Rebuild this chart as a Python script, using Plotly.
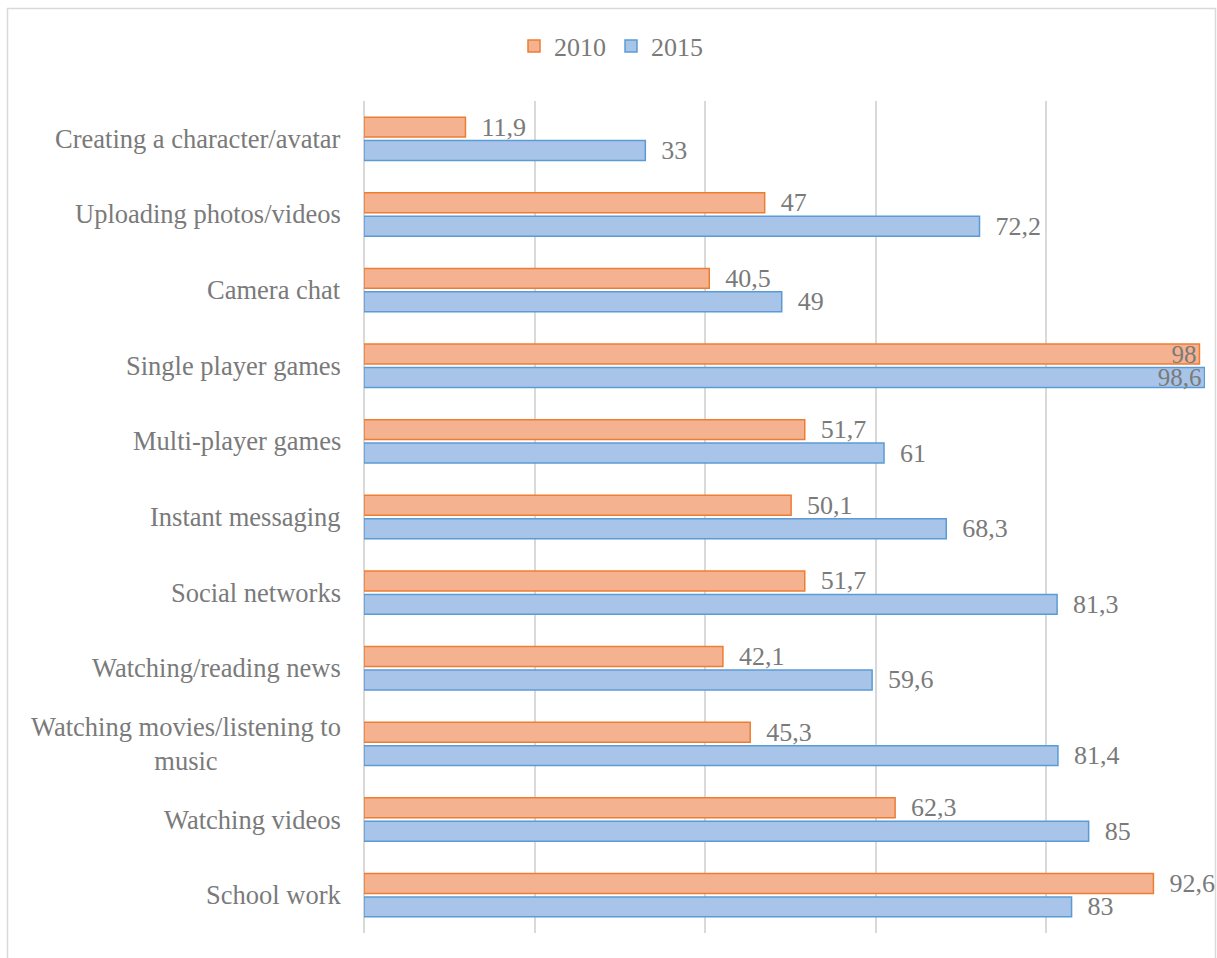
import plotly.graph_objects as go

categories = [
    "Creating a character/avatar",
    "Uploading photos/videos",
    "Camera chat",
    "Single player games",
    "Multi-player games",
    "Instant messaging",
    "Social networks",
    "Watching/reading news",
    "Watching movies/listening to<br>music",
    "Watching videos",
    "School work",
]
values_2010 = [11.9, 47, 40.5, 98, 51.7, 50.1, 51.7, 42.1, 45.3, 62.3, 92.6]
values_2015 = [33, 72.2, 49, 98.6, 61, 68.3, 81.3, 59.6, 81.4, 85, 83]

TXT = "#7A7A7A"
FONT = "Liberation Serif"
FS = 26
NB = "\u00a0\u00a0"


def fmt(v):
    return f"{v:g}".replace(".", ",")


def labels(vals):
    return [fmt(v) if v > 95 else NB + fmt(v) for v in vals]


def positions(vals):
    return ["inside" if v > 95 else "outside" for v in vals]


def bar(name, vals, fill, edge):
    return go.Bar(
        name=name, y=categories, x=vals, orientation="h",
        marker=dict(color=fill, line=dict(color=edge, width=1.5)),
        text=labels(vals), textposition=positions(vals),
        insidetextanchor="end", textangle=0, constraintext="none",
        textfont=dict(family=FONT, size=FS, color=TXT),
        outsidetextfont=dict(family=FONT, size=FS, color=TXT),
        insidetextfont=dict(family=FONT, size=FS - 1, color=TXT),
        cliponaxis=False,
    )


fig = go.Figure()
fig.add_trace(bar("2010", values_2010, "#F5B291", "#ED7D31"))
fig.add_trace(bar("2015", values_2015, "#A8C4E8", "#5B9BD5"))

for c in categories:
    fig.add_annotation(
        x=0, xref="paper", y=c, yref="y", text=c, showarrow=False,
        xanchor="right", align="center", xshift=-21,
        font=dict(family=FONT, size=26.5, color=TXT),
    )

L, R, T, B = 364, 12, 101, 25
W, H = 1217, 958
pw, ph = W - L - R, H - T - B


def px_x(p):
    return (p - L) / pw


def px_y(p):
    return (H - B - p) / ph


fig.add_shape(type="rect", xref="paper", yref="paper",
              x0=px_x(7.5), x1=px_x(1215.5), y0=px_y(975), y1=px_y(8.5),
              line=dict(color="#D9D9D9", width=1.5), fillcolor="rgba(0,0,0,0)", layer="below")

fig.update_layout(
    width=W, height=H,
    margin=dict(l=L, r=R, t=T, b=B, autoexpand=False),
    paper_bgcolor="white", plot_bgcolor="white",
    barmode="group", bargap=0.38, bargroupgap=0.15,
    legend=dict(orientation="h", x=px_x(611), xanchor="center",
                y=px_y(46), yanchor="middle",
                font=dict(family=FONT, size=FS, color=TXT),
                itemwidth=30, traceorder="normal"),
    xaxis=dict(range=[0, 98.65], dtick=20, showgrid=True, gridcolor="#D9D9D9",
               gridwidth=1.5, zeroline=True, zerolinecolor="#D9D9D9", zerolinewidth=1.5,
               showticklabels=False, ticks="", showline=False, fixedrange=True),
    yaxis=dict(categoryorder="array", categoryarray=categories, autorange="reversed",
               showticklabels=False, ticks="", showgrid=False, showline=False),
    showlegend=True,
)

fig.write_html("out.html", config={"displayModeBar": False},
               post_script="document.body.style.margin='0px';document.body.style.overflow='hidden';")
